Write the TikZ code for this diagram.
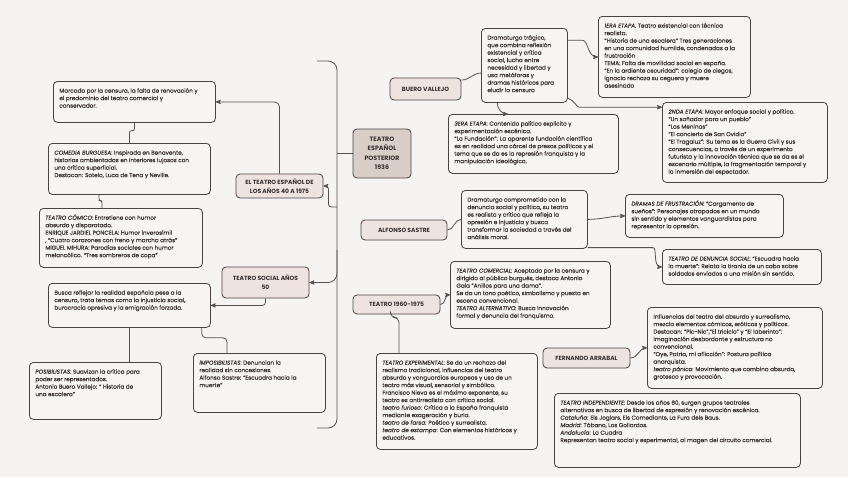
\documentclass[tikz,border=0pt]{standalone}
\usepackage{fontspec}
\setmainfont{Poppins}[UprightFeatures={FakeBold=0.35}, ItalicFeatures={FakeBold=0.35}]
\usetikzlibrary{arrows}

\definecolor{bgcol}{HTML}{F5F4F2}
\definecolor{notefill}{HTML}{F6F5F3}
\definecolor{topicfill}{HTML}{EEE3DE}
\definecolor{rootfill}{HTML}{D9CDC7}
\definecolor{boxline}{HTML}{4A4343}
\definecolor{linecol}{HTML}{585050}
\definecolor{txtcol}{HTML}{3A3232}

\newcommand{\notefont}{\fontsize{5.7}{7.5}\selectfont}
\newcommand{\topicfont}{\fontsize{6}{9}\selectfont\bfseries}
\newcommand{\notetxt}[3]{\parbox[c][\dimexpr#2pt-12pt\relax][t]{\dimexpr#1pt-12pt\relax}{\raggedright\strut#3}}

\begin{document}
\begin{tikzpicture}
  [x=1pt, y=-1pt, >=stealth',
   note/.style={draw=boxline, fill=notefill, line width=0.8pt, rounded corners=4pt,
     inner xsep=6pt, inner ysep=6pt, anchor=north west, text=txtcol, font=\notefont},
   topic/.style={draw=boxline, fill=topicfill, line width=0.8pt, rounded corners=4pt,
     inner sep=1pt, align=center, text=txtcol, font=\topicfont},
   link/.style={draw=linecol, line width=0.8pt, rounded corners=5pt}]

  \fill[bgcol] (0,0) rectangle (848,477);
  \useasboundingbox (0,0) rectangle (848,477);

  % root and bracket
  \node[topic, fill=rootfill, minimum width=58pt, minimum height=49pt, font=\fontsize{6.3}{9.5}\selectfont\bfseries] (root) at (382,153.5) {TEATRO\\ESPAÑOL\\POSTERIOR\\1936};
  \coordinate (spine) at (337,0);
  \coordinate (brtop) at (317,61);
  \coordinate (brbot) at (317,428);
  \coordinate (j40) at (337,207);
  \coordinate (j50) at (337,250);
  \draw[link, rounded corners=9pt] (brtop) -| (spine |- brbot) -- (brbot);
  \draw[link] (root.west) -- (root.west -| spine);

  % left branch
  \node[topic, minimum width=87pt, minimum height=24pt] (t40) at (279.5,186) {EL TEATRO ESPAÑOL DE\\LOS AÑOS 40 A 1975};
  \node[topic, minimum width=87pt, minimum height=31pt] (ts50) at (265.5,282.5) {TEATRO SOCIAL AÑOS\\50};
  \node[note] (mc) at (53,81) {\notetxt{162}{41}{Marcado por la censura, la falta de renovación y\\el predominio del teatro comercial y\\conservador.}};
  \node[note] (cb) at (48,143) {\notetxt{162}{51}{\textit{COMEDIA BURGUESA}: Inspirada en Benavente,\\historias ambientadas en interiores lujosos con\\una crítica superficial.\\Destacan: Sotelo, Luca de Tena y Neville.}};
  \node[note] (tc) at (39,208) {\notetxt{163}{59}{\textit{TEATRO CÓMICO}: Entretiene con humor\\absurdo y disparatado.\\ENRIQUE JARDIEL PONCELA: Humor inverosímil\\, “Cuatro corazones con freno y marcha atrás”\\MIGUEL MIHURA: Parodias sociales con humor\\melancólico. “Tres sombreros de copa”}};
  \node[note] (bu) at (48,283) {\notetxt{162}{44}{Busca reflejar la realidad española pese a la\\censura, trata temas como la injusticia social,.\\burocracia opresiva y la emigración forzada.}};
  \node[note] (po) at (29,362) {\notetxt{132}{57}{\textit{POSIBILISTAS}: Suavizan la crítica para\\poder ser representados.\\Antonio Buero Vallejo: “ Historia de\\una escalera”}};
  \node[note] (im) at (193,353) {\notetxt{132}{59}{\textit{IMPOSIBILISTAS}: Denuncian la\\realidad sin concesiones.\\Alfonso Sastre: “Escuadra hacia la\\muerte”}};

  \draw[link, ->] (t40.north) |- (mc.east);
  \draw[link, rounded corners=2pt] (mc.south) -- ++(0,8) -| (cb.north);
  \draw[link, rounded corners=2pt] ([xshift=51pt]cb.south west) -- ++(0,6) -| ([xshift=63pt]tc.north west);
  \draw[link, ->, rounded corners=3pt] (j40) -| ([xshift=5pt]t40.east) -- (t40.east);
  \draw[link, ->, rounded corners=9pt] (j50) |- (ts50.east);
  \draw[link, ->, rounded corners=3pt] (ts50.south) |- (bu.east);
  \draw[link] (bu.south) -- (bu.south |- po.north);
  \draw[link, rounded corners=4pt] ([xshift=-9pt]bu.south east) -- ++(0,10) -| ([xshift=34pt]im.north west);

  % Buero Vallejo
  \node[topic, minimum width=71pt, minimum height=22pt] (bv) at (425.5,89) {BUERO VALLEJO};
  \node[note] (dt) at (481,28) {\notetxt{86}{74}{Dramaturgo trágico,\\que combina reflexión\\existencial y crítica\\social, lucha entre\\necesidad y libertad y\\usa metáforas y\\dramas históricos para\\eludir la censura}};
  \node[note] (e1) at (598,16) {\notetxt{152}{81}{\textit{1ERA ETAPA.} Teatro existencial con técnica\\realista.\\“Historia de una escalera” Tres generaciones\\en una comunidad humilde, condenadas a la\\frustración\\TEMA: Falta de movilidad social en españa.\\“En la ardiente oscuridad”: colegio de ciegos,\\Ignacio rechaza su ceguera y muere\\asesinado}};
  \node[note] (e2) at (662,102) {\notetxt{165}{80}{\textit{2NDA ETAPA}: Mayor enfoque social y político.\\“Un soñador para un pueblo”\\“Las Meninas”\\“El concierto de San Ovidio”\\“El Tragaluz”: Su tema es la Guerra Civil y sus\\consecuencias, a través de un experimento\\futurista y la innovación técnica que se da es el\\escenario múltiple, la fragmentación temporal y\\la inmersión del espectador.}};
  \node[note] (e3) at (448,114) {\notetxt{170}{59}{\textit{3ERA ETAPA:} Contenido político explícito y\\experimentación escénica.\\“La Fundación”: La aparente fundación científica\\es en realidad una cárcel de presos políticos y el\\tema que se da es la represión franquista y la\\manipulación ideológica.}};

  \draw[link] (bv.14) to[out=0, in=180] (dt.190);
  \draw[link, ->] (dt.30) -- ++(10,0) to[out=0, in=180] (e1.west);
  \draw[link, ->] (dt.323) to[out=-20, in=180] ([xshift=-78pt]e2.157) -- (e2.157);
  \draw[link, ->] (dt.234) to[out=-90, in=180] ([xshift=60pt]e3.north west);

  % Alfonso Sastre
  \node[topic, minimum width=86pt, minimum height=20pt] (as) at (404,230) {ALFONSO SASTRE};
  \node[note] (dc) at (461,190) {\notetxt{126}{58}{Dramaturgo comprometido con la\\denuncia social y política, su teatro\\es realista y crítico que refleja la\\opresión e injusticia y busca\\transformar la sociedad a través del\\análisis moral.}};
  \node[note] (df) at (625,194) {\notetxt{158}{43}{\textit{DRAMAS DE FRUSTRACIÓN:} “Cargamento de\\sueños”: Personajes atrapados en un mundo\\sin sentido y elementos vanguardistas para\\representar la opresión.}};
  \node[note] (ds) at (662,249) {\notetxt{159}{35}{\textit{TEATRO DE DENUNCIA SOCIAL:} “Escuadra hacia\\la muerte”: Relata la tiranía de un cabo sobre\\soldados enviados a una misión sin sentido.}};

  \draw[link] (as.east) to[out=0, in=180] (dc.west);
  \draw[link, ->] (dc.east) to[out=0, in=180] (df.west);
  \draw[link, ->] (dc.336) -- ([xshift=-14pt]dc.336 -| ds.west) to[out=0, in=180] (ds.west);

  % 1960-1975
  \node[topic, minimum width=87pt, minimum height=19pt] (t60) at (396.5,304.5) {TEATRO 1960-1975};
  \node[note] (tco) at (450,261) {\notetxt{160}{67}{\textit{TEATRO COMERCIAL:} Aceptado por la censura y\\dirigido al público burgués, destaca Antonio\\Gala “Anillos para una dama”.\\Se da un tono poético, simbolismo y puesta en\\escena convencional.\\\textit{TEATRO ALTERNATIVO:} Busca innovación\\formal y denuncia del franquismo.}};
  \node[note] (tex) at (376,353) {\notetxt{161}{96}{\textit{TEATRO EXPERIMENTAL:} Se da un rechazo del\\realismo tradicional, influencias del teatro\\absurdo y vanguardias europeas y uso de un\\teatro más visual, sensorial y simbólico.\\Francisco Nieva es el máximo exponente, su\\teatro es antirrealista con crítica social.\\\textit{teatro furioso}: Crítica a la España franquista\\mediante exageración y burla.\\\textit{teatro de farsa}: Poético y surrealista.\\\textit{teatro de estampa}: Con elementos históricos y\\educativos.}};

  \draw[link, ->] (t60.east) to[out=0, in=180] (tco.west);
  \draw[link, rounded corners=5pt] ([xshift=-6pt]t60.south) -- ++(0,3) -| ([xshift=23pt]tex.north west);

  % Fernando Arrabal
  \node[topic, minimum width=87pt, minimum height=20pt] (fa) at (586.5,358) {FERNANDO ARRABAL};
  \node[note] (inf) at (647,307) {\notetxt{175}{81}{Influencias del teatro del absurdo y surrealismo,\\mezcla elementos cómicos, eróticos y políticos.\\Destacan: “Pic-Nic”,“El triciclo” y “El laberinto”:\\Imaginación desbordante y estructura no\\convencional.\\“Oye, Patria, mi aflicción”: Postura política\\anarquista.\\\textit{teatro pánico}: Movimiento que combina absurdo,\\grotesco y provocación.}};
  \node[note] (ind) at (554,393) {\notetxt{246}{74}{\textit{TEATRO INDEPENDIENTE}: Desde los años 60, surgen grupos teatrales\\alternativos en busca de libertad de expresión y renovación escénica.\\\textit{Cataluña}: Els Joglars, Els Comediants, La Fura dels Baus.\\\textit{Madrid}: Tábano, Los Goliardos.\\\textit{Andalucía}: La Cuadra\\Representan teatro social y experimental, al magen del circuito comercial.}};

  \draw[link, ->] (fa.east) to[out=0, in=180] (inf.west);
\end{tikzpicture}
\end{document}
